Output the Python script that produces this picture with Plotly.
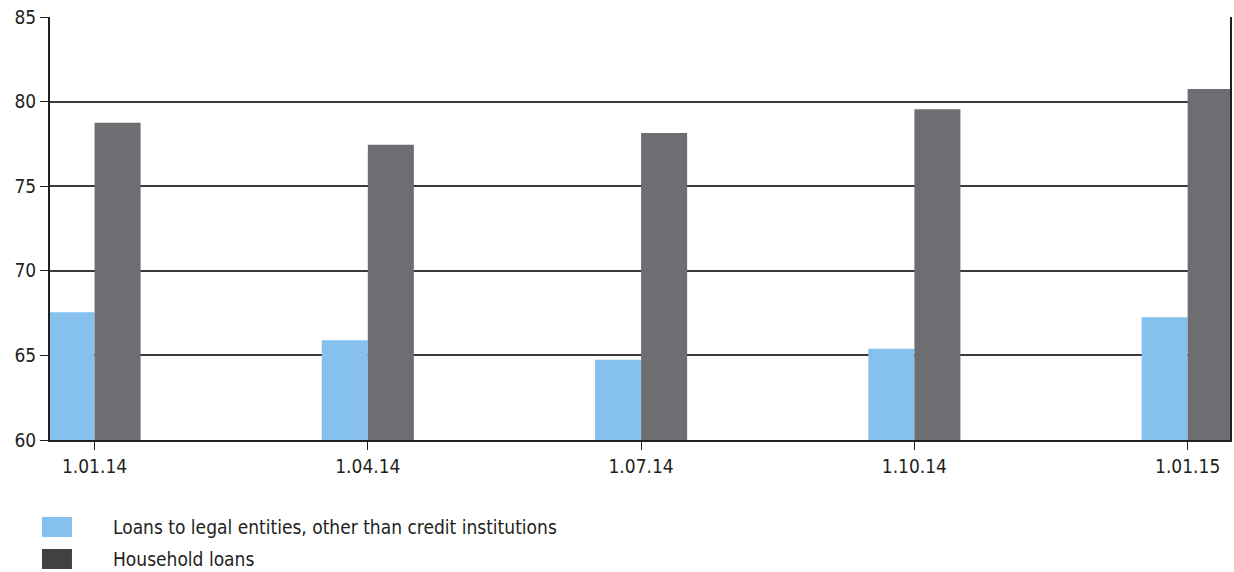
import plotly.graph_objects as go

# Reporting dates and loan shares (%)
dates = ["1.01.14", "1.04.14", "1.07.14", "1.10.14", "1.01.15"]
legal_entities = [67.55, 65.9, 64.75, 65.4, 67.25]
household = [78.75, 77.45, 78.15, 79.55, 80.75]
series_names = ["Loans to legal entities, other than credit institutions", "Household loans"]
y_ticks = [60, 65, 70, 75, 80, 85]

BLUE = "#85C1EC"
GREY = "#6D6E71"
DARK = "#414042"
TEXT = "#231F20"
FONT = "Liberation Sans Narrow, DejaVu Sans Condensed, Arial Narrow, sans-serif"

fig = go.Figure()
fig.add_trace(go.Bar(x=dates, y=legal_entities, name=series_names[0],
                     marker=dict(color=BLUE, line=dict(width=0))))
fig.add_trace(go.Bar(x=dates, y=household, name=series_names[1],
                     marker=dict(color=GREY, line=dict(width=0))))

fig.update_layout(
    width=1234, height=572,
    margin=dict(l=50, r=2, t=17, b=132),
    barmode="group", bargap=0.663, bargroupgap=0,
    plot_bgcolor="white", paper_bgcolor="white",
    showlegend=False,
    font=dict(family=FONT, size=19, color=TEXT),
    xaxis=dict(
        type="category", range=[-0.163, 4.155],
        showgrid=False, showline=True, linecolor="#231F20", linewidth=2,
        ticks="outside", ticklen=8, tickcolor="#231F20", tickwidth=1,
        tickfont=dict(size=19), fixedrange=True,
    ),
    yaxis=dict(
        range=[60, 85], tickvals=y_ticks,
        showgrid=True, gridcolor="#3A3A3A", gridwidth=1.5,
        showline=True, linecolor="#231F20", linewidth=2, mirror=True,
        ticks="outside", ticklen=8, tickcolor="#231F20", tickwidth=1,
        tickfont=dict(size=19), zeroline=False,
    ),
)

# Legend drawn beneath the plot: wide swatches with labels
legend_rows = [(BLUE, series_names[0], 527), (DARK, series_names[1], 559)]
for color, label, yc in legend_rows:
    fig.add_shape(type="rect", xref="paper", yref="paper",
                  x0=(42 - 50) / 1182, x1=(72 - 50) / 1182,
                  y0=(440 - (yc + 10)) / 423, y1=(440 - (yc - 10)) / 423,
                  fillcolor=color, line=dict(width=0), layer="above")
    fig.add_annotation(xref="paper", yref="paper",
                       x=(111 - 50) / 1182, y=(440 - yc) / 423,
                       text=label, showarrow=False, xanchor="left", yanchor="middle",
                       font=dict(family=FONT, size=19, color=TEXT))

fig.write_html("out.html")
